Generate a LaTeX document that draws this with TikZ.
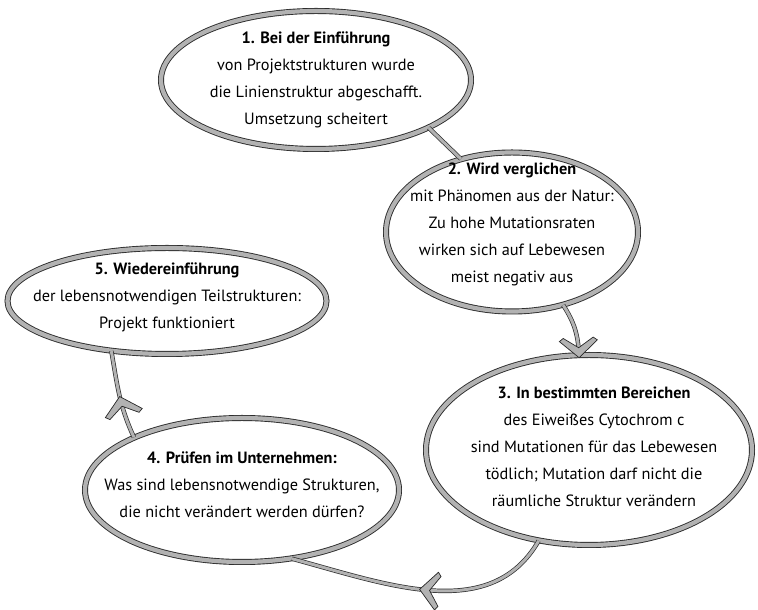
\documentclass[tikz,border=0pt]{standalone}
\usepackage{fontspec}
\setmainfont{PT Sans}
\usetikzlibrary{arrows.meta,shapes.geometric,decorations.markings}

\newcommand{\sketchtip}{\filldraw[fill=gray!60,draw=gray!30!black,line width=0.7pt]
  (3pt,0) -- (-14pt,19pt) -- (-17pt,15pt) -- (-7pt,0) -- (-17pt,-15pt)
  -- (-14pt,-19pt) -- cycle;}

\begin{document}
\begin{tikzpicture}[x=1pt,y=1pt,
  bubble/.style={ellipse,draw=gray!35!black,line width=0.9pt,double=gray!60,
                 double distance=4.2pt,fill=white,inner sep=0pt},
  txt/.style={align=center,inner sep=0pt,text=black,
              font=\fontsize{16.3}{27}\selectfont},
  link/.style={draw=gray!35!black,line width=0.7pt,double=gray!60,
               double distance=3pt},
  tipat/.style={postaction={decorate},decoration={markings,
                mark=at position #1 with {\sketchtip}}}]
\useasboundingbox (0,0) rectangle (758,610);
% bubbles
\node[bubble,minimum width=310pt,minimum height=138pt] (e1) at (316,530) {};
\node[bubble,minimum width=252pt,minimum height=159pt] (e2) at (512,378) {};
\node[bubble,minimum width=326pt,minimum height=190pt] (e3) at (589,160) {};
\node[bubble,minimum width=314pt,minimum height=144pt] (e4) at (242,120) {};
\node[bubble,minimum width=319pt,minimum height=106pt] (e5) at (167,309) {};
% texts
\node[txt] (t1) at (e1) {\textbf{1. Bei der Einführung}\\von Projektstrukturen wurde\\
  die Linienstruktur abgeschafft.\\Umsetzung scheitert};
\node[txt] (t2) at ([yshift=8pt]e2.center) {\textbf{2. Wird verglichen}\\
  mit Phänomen aus der Natur:\\Zu hohe Mutationsraten\\wirken sich auf Lebewesen\\
  meist negativ aus};
\node[txt] (t3) at ([xshift=5pt,yshift=3pt]e3.center) {\textbf{3. In bestimmten Bereichen}\\
  des Eiweißes Cytochrom c\\sind Mutationen für das Lebewesen\\
  tödlich; Mutation darf nicht die\\räumliche Struktur verändern};
\node[txt] (t4) at ([yshift=5pt]e4.center) {\textbf{4. Prüfen im Unternehmen:}\\
  Was sind lebensnotwendige Strukturen,\\die nicht verändert werden dürfen?};
\node[txt] (t5) at ([yshift=4pt]e5.center) {\textbf{5. Wiedereinführung}\\
  der lebensnotwendigen Teilstrukturen:\\Projekt funktioniert};
% connectors
\draw[link] (e1.-23) -- (e2.125);
\draw[link,tipat=1] (e2.-55) to[bend left=15] (e3.96);
\draw[link,tipat=0.5] (e3.241) to[out=240,in=-15] (e4.-54);
\draw[link,tipat=0.45] (e4.154) to[out=115,in=-80] (e5.222);
\end{tikzpicture}
\end{document}
